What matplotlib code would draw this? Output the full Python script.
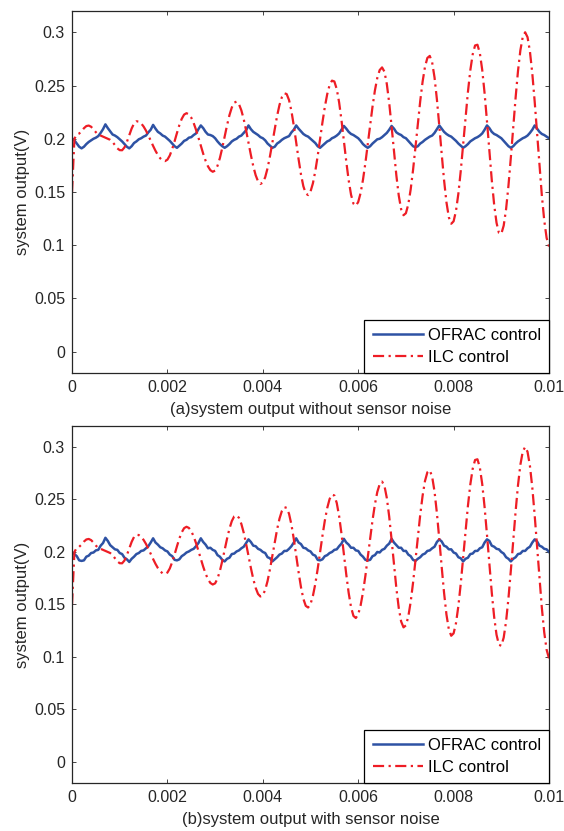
import numpy as np
import matplotlib.pyplot as plt

plt.rcParams["font.family"] = ["Liberation Sans", "DejaVu Sans"]

# time grid: 0 .. 0.01 s, 201 samples
t = np.linspace(0, 0.01, 201)

# OFRAC control (without sensor noise)
ofrac_a = [
    0.2005, 0.1985, 0.1955, 0.1925,
    0.1910, 0.1925, 0.1950, 0.1970, 0.1985, 0.2000, 0.2010, 0.2025, 0.2055, 0.2090,
    0.2135, 0.2100, 0.2070, 0.2040, 0.2030, 0.2015, 0.1995, 0.1975, 0.1950, 0.1925,
    0.1910, 0.1930, 0.1960, 0.1975, 0.1995, 0.2005, 0.2020, 0.2030, 0.2060, 0.2085,
    0.2130, 0.2095, 0.2065, 0.2050, 0.2030, 0.2020, 0.2000, 0.1980, 0.1955, 0.1930,
    0.1915, 0.1935, 0.1955, 0.1980, 0.1990, 0.2010, 0.2015, 0.2035, 0.2050, 0.2090,
    0.2125, 0.2100, 0.2065, 0.2040, 0.2035, 0.2025, 0.2005, 0.1975, 0.1950, 0.1930,
    0.1915, 0.1930, 0.1950, 0.1975, 0.1990, 0.2000, 0.2020, 0.2030, 0.2055, 0.2080,
    0.2125, 0.2090, 0.2065, 0.2050, 0.2035, 0.2015, 0.2005, 0.1985, 0.1955, 0.1935,
    0.1915, 0.1925, 0.1955, 0.1970, 0.1990, 0.2005, 0.2015, 0.2025, 0.2060, 0.2085,
    0.2125, 0.2095, 0.2070, 0.2045, 0.2030, 0.2020, 0.2000, 0.1980, 0.1960, 0.1930,
    0.1915, 0.1935, 0.1955, 0.1975, 0.1985, 0.2005, 0.2015, 0.2030, 0.2050, 0.2085,
    0.2120, 0.2095, 0.2065, 0.2045, 0.2035, 0.2020, 0.2005, 0.1980, 0.1950, 0.1930,
    0.1915, 0.1930, 0.1955, 0.1975, 0.1995, 0.2000, 0.2015, 0.2035, 0.2055, 0.2085,
    0.2120, 0.2095, 0.2060, 0.2045, 0.2035, 0.2015, 0.2005, 0.1980, 0.1955, 0.1930,
    0.1920, 0.1930, 0.1955, 0.1970, 0.1990, 0.2005, 0.2020, 0.2030, 0.2055, 0.2090,
    0.2125, 0.2095, 0.2065, 0.2045, 0.2030, 0.2020, 0.2000, 0.1980, 0.1955, 0.1935,
    0.1915, 0.1930, 0.1950, 0.1975, 0.1990, 0.2005, 0.2015, 0.2030, 0.2050, 0.2085,
    0.2125, 0.2100, 0.2065, 0.2045, 0.2035, 0.2020, 0.2005, 0.1980, 0.1955, 0.1930,
    0.1915, 0.1930, 0.1955, 0.1975, 0.1990, 0.2005, 0.2015, 0.2030, 0.2055, 0.2085,
    0.2125, 0.2095, 0.2065, 0.2045, 0.2035, 0.2020, 0.2005,
]

# OFRAC control (with sensor noise)
ofrac_b = [
    0.2000, 0.1980, 0.1960, 0.1920,
    0.1915, 0.1920, 0.1955, 0.1965, 0.1990, 0.1995, 0.2015, 0.2020, 0.2060, 0.2085,
    0.2135, 0.2105, 0.2065, 0.2045, 0.2025, 0.2020, 0.1990, 0.1980, 0.1945, 0.1930,
    0.1905, 0.1935, 0.1955, 0.1980, 0.1990, 0.2010, 0.2015, 0.2035, 0.2055, 0.2090,
    0.2130, 0.2090, 0.2070, 0.2045, 0.2035, 0.2015, 0.2005, 0.1975, 0.1960, 0.1925,
    0.1920, 0.1930, 0.1960, 0.1975, 0.1995, 0.2005, 0.2020, 0.2030, 0.2055, 0.2085,
    0.2130, 0.2095, 0.2070, 0.2035, 0.2040, 0.2020, 0.2010, 0.1970, 0.1955, 0.1925,
    0.1910, 0.1935, 0.1945, 0.1980, 0.1985, 0.2005, 0.2015, 0.2035, 0.2050, 0.2085,
    0.2120, 0.2095, 0.2060, 0.2055, 0.2030, 0.2020, 0.2000, 0.1990, 0.1950, 0.1940,
    0.1910, 0.1930, 0.1950, 0.1975, 0.1985, 0.2010, 0.2010, 0.2030, 0.2055, 0.2090,
    0.2130, 0.2090, 0.2075, 0.2040, 0.2035, 0.2015, 0.2005, 0.1975, 0.1965, 0.1925,
    0.1920, 0.1930, 0.1960, 0.1970, 0.1990, 0.2000, 0.2020, 0.2025, 0.2055, 0.2080,
    0.2125, 0.2090, 0.2070, 0.2040, 0.2040, 0.2015, 0.2010, 0.1975, 0.1955, 0.1925,
    0.1920, 0.1925, 0.1960, 0.1970, 0.2000, 0.1995, 0.2020, 0.2030, 0.2060, 0.2080,
    0.2125, 0.2090, 0.2065, 0.2040, 0.2040, 0.2010, 0.2010, 0.1975, 0.1960, 0.1925,
    0.1915, 0.1935, 0.1950, 0.1975, 0.1985, 0.2010, 0.2015, 0.2035, 0.2050, 0.2095,
    0.2120, 0.2100, 0.2060, 0.2050, 0.2025, 0.2025, 0.1995, 0.1985, 0.1950, 0.1940,
    0.1910, 0.1935, 0.1945, 0.1980, 0.1985, 0.2010, 0.2010, 0.2035, 0.2045, 0.2090,
    0.2120, 0.2105, 0.2060, 0.2050, 0.2030, 0.2025, 0.2000, 0.1985, 0.1950, 0.1935,
    0.1910, 0.1935, 0.1950, 0.1980, 0.1985, 0.2010, 0.2010, 0.2035, 0.2050, 0.2090,
    0.2120, 0.2100, 0.2060, 0.2050, 0.2030, 0.2025, 0.2000,
]

# ILC control
ilc = [
    0.1500, 0.2000, 0.2040, 0.2049, 0.2071, 0.2099, 0.2119, 0.2124, 0.2113, 0.2089,
    0.2061, 0.2038, 0.2030, 0.2020, 0.2010, 0.2000, 0.1990, 0.1970, 0.1940, 0.1910,
    0.1893, 0.1892, 0.1919, 0.1970, 0.2034, 0.2096, 0.2143, 0.2164, 0.2161, 0.2144,
    0.2115, 0.2077, 0.2031, 0.1982, 0.1933, 0.1887, 0.1847, 0.1816, 0.1796, 0.1790,
    0.1804, 0.1843, 0.1903, 0.1976, 0.2054, 0.2128, 0.2187, 0.2227, 0.2240,
    0.2229, 0.2198, 0.2148, 0.2084, 0.2011, 0.1934, 0.1860, 0.1794, 0.1741, 0.1705, 0.1690,
    0.1701, 0.1746, 0.1819, 0.1914, 0.2020, 0.2126, 0.2221, 0.2294, 0.2339,
    0.2349, 0.2325, 0.2267, 0.2183, 0.2078, 0.1963, 0.1847, 0.1742, 0.1658, 0.1600, 0.1576,
    0.1588, 0.1639, 0.1724, 0.1836, 0.1963, 0.2094, 0.2216, 0.2318, 0.2391, 0.2427,
    0.2420, 0.2363, 0.2260, 0.2122, 0.1966, 0.1808, 0.1665, 0.1554, 0.1487,
    0.1471, 0.1504, 0.1581, 0.1695, 0.1837, 0.1994, 0.2153, 0.2298, 0.2418, 0.2504, 0.2546,
    0.2538, 0.2467, 0.2341, 0.2172, 0.1980, 0.1785, 0.1610, 0.1474, 0.1391,
    0.1371, 0.1406, 0.1490, 0.1615, 0.1771, 0.1947, 0.2129, 0.2302, 0.2453, 0.2571, 0.2645, 0.2670,
    0.2630, 0.2514, 0.2336, 0.2116, 0.1880, 0.1655, 0.1467, 0.1338, 0.1282,
    0.1301, 0.1384, 0.1524, 0.1708, 0.1919, 0.2141, 0.2353, 0.2536, 0.2676, 0.2759,
    0.2778, 0.2718, 0.2576, 0.2369, 0.2121, 0.1859, 0.1611, 0.1404, 0.1263, 0.1202,
    0.1225, 0.1322, 0.1485, 0.1699, 0.1944, 0.2197, 0.2438, 0.2642, 0.2792, 0.2876,
    0.2883, 0.2805, 0.2647, 0.2426, 0.2163, 0.1883, 0.1614, 0.1382, 0.1211, 0.1116,
    0.1107, 0.1184, 0.1338, 0.1559, 0.1823, 0.2107, 0.2386, 0.2636, 0.2831, 0.2957, 0.3000,
    0.2954, 0.2821, 0.2613, 0.2348, 0.2051, 0.1749, 0.1468, 0.1234, 0.1069, 0.0987,
]

xticks = [0, 0.002, 0.004, 0.006, 0.008, 0.01]
xticklabels = ["0", "0.002", "0.004", "0.006", "0.008", "0.01"]
yticks = [0, 0.05, 0.1, 0.15, 0.2, 0.25, 0.3]
yticklabels = ["0", "0.05", "0.1", "0.15", "0.2", "0.25", "0.3"]
subtitles = ["(a)system output without sensor noise", "(b)system output with sensor noise"]

blue = "#2e52a4"
red = "#ee1d25"
dark = "#262626"

fig = plt.figure(figsize=(5.64, 8.31), dpi=100)
ax_a = fig.add_axes([0.1277, 0.5511, 0.8457, 0.4357])
ax_b = fig.add_axes([0.1277, 0.0578, 0.8457, 0.4296])

for ax, ofrac, sub in [(ax_a, ofrac_a, subtitles[0]), (ax_b, ofrac_b, subtitles[1])]:
    ax.plot(t, ofrac, color=blue, lw=1.8, label="OFRAC control")
    ax.plot(t, ilc, color=red, lw=1.6, ls=(0, (5, 2, 1, 2)), label="ILC control")
    ax.set_xlim(0, 0.01)
    ax.set_ylim(-0.02, 0.32)
    ax.set_xticks(xticks)
    ax.set_xticklabels(xticklabels)
    ax.set_yticks(yticks)
    ax.set_yticklabels(yticklabels)
    ax.tick_params(direction="in", length=3, width=0.6, top=True, right=True,
                   labelsize=11.5, colors=dark, labelcolor=dark, pad=5)
    for s in ax.spines.values():
        s.set_color(dark)
        s.set_linewidth(0.9)
    ax.set_xlabel(sub, fontsize=12, color=dark, labelpad=5)
    ax.set_ylabel("system output(V)", fontsize=12, color=dark, labelpad=3)
    leg = ax.legend(loc="lower right", borderaxespad=0, fancybox=False,
                    edgecolor="black", framealpha=1, fontsize=12,
                    handlelength=3.0, borderpad=0.5, labelspacing=0.4,
                    handletextpad=0.3)
    leg.get_frame().set_linewidth(0.9)

fig.savefig("out.png", dpi=100)
